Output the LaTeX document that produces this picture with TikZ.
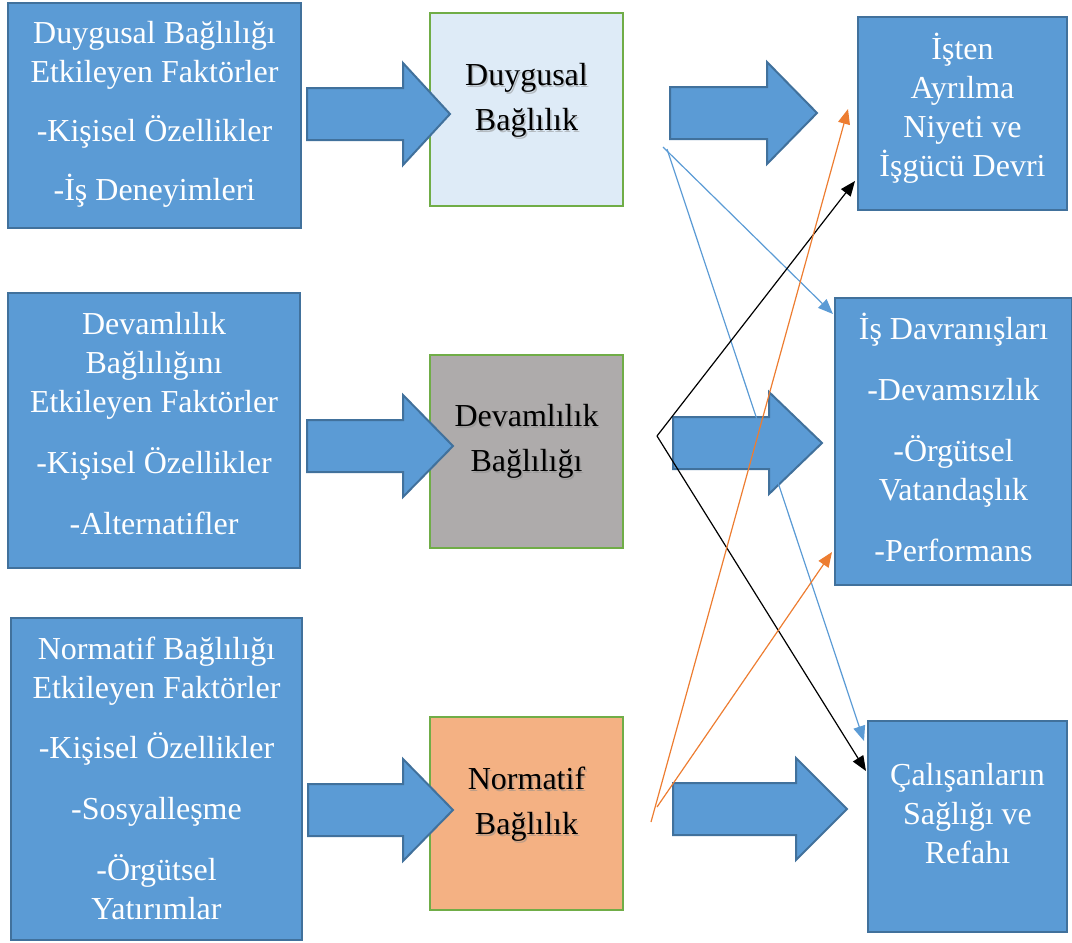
\documentclass[tikz,border=0pt]{standalone}
\usepackage{fontspec}
\setmainfont{Liberation Serif}
\usetikzlibrary{arrows.meta}
\definecolor{boxblue}{HTML}{5B9BD5}
\definecolor{boxedge}{HTML}{41719C}
\definecolor{midedge}{HTML}{70AD47}
\definecolor{lightfill}{HTML}{DEEBF7}
\definecolor{grayfill}{HTML}{AEABAB}
\definecolor{peachfill}{HTML}{F4B183}
\definecolor{linkorange}{HTML}{ED7D31}
\tikzset{
  bluebox/.style={draw=boxedge, fill=boxblue, line width=2.2pt, inner sep=0pt},
  bluetext/.style={text=white, align=center, inner sep=0pt,
    font=\fontsize{32}{39}\selectfont},
  midbox/.style={draw=midedge, line width=2pt, inner sep=0pt,
    minimum width=193pt, minimum height=193pt},
  midtext/.style={align=center, inner sep=0pt, font=\fontsize{32}{45}\selectfont},
  midshadow/.style={midtext, text=black!45, opacity=0.5},
  blockarrow/.style={draw=boxedge, fill=boxblue, line width=2pt, line join=miter},
  link/.style={line width=1.2pt, -{Triangle[length=15pt,width=12pt]}},
}
% block arrow: left end, head base, tip, centre line
\newcommand\blockarr[4]{%
  \path[blockarrow] (#1,#4-26) -- (#2,#4-26) -- (#2,#4-51) -- (#3,#4)
    -- (#2,#4+51) -- (#2,#4+26) -- (#1,#4+26) -- cycle;}
% white text of a blue box: box name, upward shift, text
\newcommand\boxlabel[3]{%
  \node[bluetext] at ([yshift=#2]#1.center) {#3};}
% label of a commitment box, with a soft shadow
\newcommand\midlabel[3]{%
  \node[midshadow] at ([xshift=1.5pt,yshift=#2-1.5pt]#1.center) {#3};
  \node[midtext] at ([yshift=#2]#1.center) {#3};}
\begin{document}
\begin{tikzpicture}[x=1pt,y=-1pt]
\useasboundingbox (0,0) rectangle (1072,943);

% factor boxes
\node[bluebox, minimum width=293pt, minimum height=225pt] (fduy) at (154.5,115.5) {};
\node[bluebox, minimum width=292pt, minimum height=275pt] (fdev) at (154,430.5) {};
\node[bluebox, minimum width=291pt, minimum height=322pt] (fnor) at (156.5,779) {};
\boxlabel{fduy}{1pt}{Duygusal Bağlılığı\\Etkileyen Faktörler\\[20pt]-Kişisel Özellikler\\[20pt]-İş Deneyimleri}
\boxlabel{fdev}{7pt}{Devamlılık\\Bağlılığını\\Etkileyen Faktörler\\[22pt]-Kişisel Özellikler\\[22pt]-Alternatifler}
\boxlabel{fnor}{1pt}{Normatif Bağlılığı\\Etkileyen Faktörler\\[21pt]-Kişisel Özellikler\\[22pt]-Sosyalleşme\\[22pt]-Örgütsel\\Yatırımlar}

% commitment types
\node[midbox, fill=lightfill] (mduy) at (526.5,109.5) {};
\node[midbox, fill=grayfill] (mdev) at (526.5,451.5) {};
\node[midbox, fill=peachfill] (mnor) at (526.5,813.5) {};
\midlabel{mduy}{9pt}{Duygusal\\Bağlılık}
\midlabel{mdev}{10pt}{Devamlılık\\Bağlılığı}
\midlabel{mnor}{9pt}{Normatif\\Bağlılık}

% outcomes
\node[bluebox, minimum width=209pt, minimum height=193pt] (oayr) at (962.5,113.5) {};
\node[bluebox, minimum width=237pt, minimum height=287pt] (odav) at (953.5,441.5) {};
\node[bluebox, minimum width=199pt, minimum height=211pt] (osag) at (967.5,826.5) {};
\boxlabel{oayr}{5pt}{İşten\\Ayrılma\\Niyeti ve\\İşgücü Devri}
\boxlabel{odav}{4pt}{İş Davranışları\\[22pt]-Devamsızlık\\[22pt]-Örgütsel\\Vatandaşlık\\[22pt]-Performans}
\boxlabel{osag}{13pt}{Çalışanların\\Sağlığı ve\\Refahı}

% block arrows
\blockarr{307}{403}{450}{114}
\blockarr{307}{403}{453}{446}
\blockarr{308}{403}{453}{810}
\blockarr{670}{767}{817}{113}
\blockarr{673}{769}{822}{443}
\blockarr{673}{796}{847}{809}

% link end points
\coordinate (bs1) at (663,147);
\coordinate (bs2) at (667,149);
\coordinate (ks) at (657,436);
\coordinate (os1) at (651,822);
\coordinate (os2) at (657,807);
\coordinate (tDav1) at (833,314);
\coordinate (tSag1) at (864,741);
\coordinate (tAyr1) at (855,181);
\coordinate (tSag2) at (866,771);
\coordinate (tAyr2) at (848,109);
\coordinate (tDav2) at (832,552);

% links
\draw[link, boxblue] (bs1) -- (tDav1);
\draw[link, boxblue] (bs2) -- (tSag1);
\draw[link, black] (ks) -- (tAyr1);
\draw[link, black] (ks) -- (tSag2);
\draw[link, linkorange] (os1) -- (tAyr2);
\draw[link, linkorange] (os2) -- (tDav2);
\end{tikzpicture}
\end{document}
